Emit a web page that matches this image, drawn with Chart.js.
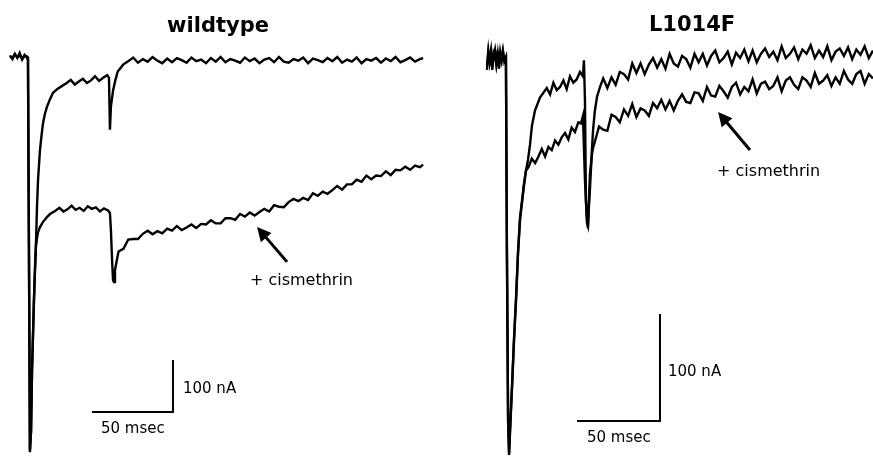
<!DOCTYPE html>
<html><head><meta charset="utf-8">
<script src="https://cdn.jsdelivr.net/npm/chart.js@4/dist/chart.umd.min.js"></script>
<style>
html,body{margin:0;padding:0;background:#fff;width:873px;height:457px;overflow:hidden}
#l{position:absolute;left:0;top:0;width:440px;height:457px}
#r{position:absolute;left:460px;top:0;width:413px;height:457px}
</style>
</head><body>
<div id="l"><canvas id="cl"></canvas></div>
<div id="r"><canvas id="cr"></canvas></div>
<script>
// ---- DATA: time (msec), current (nA) ----
const panelTitles = ["wildtype", "L1014F"];
const drugLabel = "+ cismethrin";
const scaleBarMs = 50, scaleBarNA = 100;
const scaleBarLabels = ["100 nA", "50 msec"];

const wtControl = [[0,3],[1.5,-4],[3,6],[4.5,-2],[6,8],[7.5,-5],[9,4],[10.5,-1],
 [11.1,-6],[11.7,-371],[12.3,-756],[13.0,-717],[13.6,-602],[14.8,-467],[15.4,-410],[16.0,-362],
 [16.7,-285],[17.3,-237],[18.5,-179],[19.5,-150],[20.4,-127],[21.5,-110],[22.8,-96],[24.7,-81],[26.5,-69],[29,-62],[32,-56],[35,-50],
 [37.5,-44],[40,-53],[42.5,-47],[45,-42],[47.5,-50],[50,-45],[52.5,-37],[55,-46],[57.5,-40],[60,-35],[61.1,-40],
 [61.7,-140],[62.3,-95],[63.6,-65],[65,-45],[66.5,-28],[68,-22],[70,-14],[72,-10],[74,-6],
 [76,-1],[79,-11],[82,-4],[85,-9],[88,0],[91,-7],[94,-12],[97,-3],[100,-10],[103,-2],[106,-6],[109,-11],[112,-1],[115,-8],[118,-5],[121,-12],[124,-2],[127,-9],[130,0],[133,-10],[136,-4],[139,-7],[142,-11],[145,-1],[148,-8],[151,-3],[154,-12],[157,-5],[160,-2],[163,-10],[166,0],[169,-9],[172,-11],[175,-4],[178,-7],[181,-1],[184,-12],[187,-3],[190,-6],[193,-10],[196,-2],[199,-8],[202,0],[205,-11],[208,-5],[211,-9],[214,-1],[217,-12],[220,-4],[223,-7],[226,-2],[229,-11],[232,-3],[235,-8],[238,0],[241,-10],[244,-6],[247,-1],[250,-9],[253,-4],[255,-2]];

const wtCismethrin = [[0,1],[1.5,-2],[3,5],[4.5,0],[6,3],[7.5,-4],[9,2],[10.5,1],
 [11.1,-4],[11.7,-371],[12.3,-760],[13.0,-720],[13.6,-604],[14.8,-467],[15.4,-412],[16.0,-364],
 [16.7,-348],[17.3,-337],[18.5,-327],[20.4,-317],[22.8,-308],[24.7,-302],[27.8,-296],
 [30.5,-290],[33,-297],[35.5,-293],[38,-286],[40.5,-294],[43,-290],[45.5,-296],[48,-287],[50.5,-292],[53,-289],[55.5,-297],[58,-291],[60.5,-295],[61.7,-300],
 [62.3,-333],[63.0,-390],[63.6,-429],[64.2,-433],[64.8,-410],[66,-390],
 [67,-374],[70,-369],[73,-351],[76,-350],[79,-350],[82,-340],[85,-334],[88,-341],[91,-335],[94,-339],[97,-330],[100,-334],[103,-325],[106,-333],[109,-328],[112,-322],[115,-329],[118,-321],[121,-322],[124,-314],[127,-320],[130,-320],[133,-310],[136,-310],[139,-313],[142,-302],[145,-307],[148,-299],[151,-305],[154,-298],[157,-292],[160,-297],[163,-285],[166,-288],[169,-289],[172,-279],[175,-273],[178,-277],[181,-271],[184,-275],[187,-262],[190,-267],[193,-259],[196,-263],[199,-256],[202,-248],[205,-255],[208,-245],[211,-245],[214,-236],[217,-240],[220,-228],[223,-235],[226,-228],[229,-229],[232,-220],[235,-227],[238,-217],[241,-218],[244,-211],[247,-217],[250,-209],[253,-212],[255,-207]];

const mutControl = [[0,-12],[0.8,4],[1.6,-3],[2.4,6],[3.2,-9],[4,2],[4.8,7],[5.6,-6],[6.4,3],[7.2,-11],[8,5],[8.8,-2],[9.6,6],[10.4,-4],[11.4,0],
 [12.0,-180],[12.7,-339],[13.3,-372],[13.9,-349],[15.1,-308],[16.3,-264],[17.5,-227],[18.7,-183],[19.9,-152],[21.1,-136],[22.3,-120],[23.5,-106],
 [24.7,-96],[25.9,-82],[27.1,-64],[28.9,-50],[31.9,-38],[33.7,-34],
 [36,-29],[38,-35],[40,-24],[42,-31],[44,-28],[46,-22],[48,-30],[50,-18],[52,-24],[54,-21],[56,-14],[57.8,-18],[58.4,-3],[59.0,-40],[59.6,-134],[60.2,-150],[60.8,-160],[61.4,-140],[62.0,-124],[63.3,-84],[63.9,-68],[65,-50],[66.3,-37],[68.1,-28],
 [70,-20],[72.5,-29],[75,-19],[77.5,-26],[80,-14],[82.5,-16],[85,-21],[87.5,-6],[90,-15],[92.5,-6],[95,-16],[97.5,-7],[100,-1],[102.5,-10],[105,-2],[107.5,-11],[110,3],[112.5,-6],[115,-9],[117.5,1],[120,-2],[122.5,-10],[125,3],[127.5,-5],[130,3],[132.5,-8],[135,1],[137.5,6],[140,-5],[142.5,-1],[145,5],[147.5,-7],[150,4],[152.5,-1],[155,7],[157.5,-4],[160,6],[162.5,-5],[165,3],[167.5,8],[170,0],[172.5,5],[175,-3],[177.5,10],[180,-1],[182.5,3],[185,9],[187.5,-2],[190,7],[192.5,3],[195,11],[197.5,-1],[200,6],[202.5,0],[205,10],[207.5,-3],[210,5],[212.5,8],[215,1],[217.5,9],[220,-2],[222.5,7],[225,2],[227.5,10],[230,-1],[232.5,6]];

const mutCismethrin = [[0,-8],[0.8,6],[1.6,-5],[2.4,3],[3.2,-12],[4,4],[4.8,1],[5.6,-7],[6.4,6],[7.2,-9],[8,2],[8.8,-4],[9.6,5],[10.4,-2],[11.4,0],
 [12.0,-185],[12.7,-340],[13.3,-370],[13.9,-348],[15.1,-306],[16.3,-262],[17.5,-225],[18.7,-182],[19.9,-150],[21.1,-134],[22.3,-118],[23.5,-106],
 [25,-103],[27,-95],[29,-99],[31,-93],[33,-86],[35,-93],[37,-84],[39,-87],[41,-78],[43,-82],[45,-75],[47,-71],[49,-77],[51,-66],[53,-70],[55,-61],[56.6,-62],[57.8,-55],[59.0,-115],[60.2,-155],[60.8,-158],[61.4,-134],[62.0,-110],[63.3,-90],[63.9,-85],
 [65,-79],[67.5,-65],[70,-68],[72.5,-69],[75,-54],[77.5,-56],[80,-61],[82.5,-49],[85,-55],[87.5,-44],[90,-56],[92.5,-48],[95,-50],[97.5,-55],[100,-43],[102.5,-48],[105,-40],[107.5,-49],[110,-41],[112.5,-50],[115,-41],[117.5,-35],[120,-42],[122.5,-43],[125,-33],[127.5,-34],[130,-41],[132.5,-28],[135,-36],[137.5,-37],[140,-27],[142.5,-32],[145,-38],[147.5,-28],[150,-24],[152.5,-35],[155,-28],[157.5,-32],[160,-21],[162.5,-34],[165,-25],[167.5,-23],[170,-30],[172.5,-27],[175,-19],[177.5,-32],[180,-22],[182.5,-19],[185,-26],[187.5,-30],[190,-19],[192.5,-22],[195,-28],[197.5,-15],[200,-25],[202.5,-22],[205,-17],[207.5,-27],[210,-19],[212.5,-25],[215,-13],[217.5,-21],[220,-25],[222.5,-16],[225,-13],[227.5,-25],[230,-16],[232.5,-20]];

// scale-bar corners (time, current) and arrow ends (tip, tail) in data units
const wtScaleCorner = [100.6, -682.7];
const mutScaleCorner = [104.2, -340.2];
const wtArrow = [[152.5, -327], [171, -394]];
const mutArrow = [[139.2, -51.4], [158.4, -86.9]];
const wtLabelAt = [148.1, -431];
const mutLabelAt = [138.6, -107.5];

// ---- rendering ----
const INK = '#000';
const FONT = '"DejaVu Sans", sans-serif';
function pts(a){ return a.map(p => ({x:p[0], y:p[1]})); }
function bar(c){ return [{x:c[0]-scaleBarMs, y:c[1]}, {x:c[0], y:c[1]}, {x:c[0], y:c[1]+scaleBarNA}]; }

function overlay(o){
  return {
    id:'overlay',
    afterDatasetsDraw(chart){
      const ctx = chart.ctx, X = chart.scales.x, Y = chart.scales.y;
      ctx.save();
      ctx.fillStyle = INK; ctx.strokeStyle = INK;
      ctx.font = 'bold 21px ' + FONT;
      ctx.textAlign = 'center'; ctx.textBaseline = 'alphabetic';
      ctx.fillText(o.title, o.titleX, o.titleY);
      ctx.font = '16px ' + FONT; ctx.textAlign = 'left'; ctx.textBaseline = 'middle';
      ctx.fillText(drugLabel, X.getPixelForValue(o.labelAt[0]), Y.getPixelForValue(o.labelAt[1]));
      ctx.font = '15px ' + FONT;
      const cx = X.getPixelForValue(o.corner[0]), cy = Y.getPixelForValue(o.corner[1]);
      const topY = Y.getPixelForValue(o.corner[1] + scaleBarNA);
      const lx = X.getPixelForValue(o.corner[0] - scaleBarMs);
      ctx.fillText(scaleBarLabels[0], cx + o.naDx, (cy + topY)/2 + o.naDy);
      ctx.fillText(scaleBarLabels[1], lx + o.msDx, cy + 17);
      const tx = X.getPixelForValue(o.arrow[0][0]), ty = Y.getPixelForValue(o.arrow[0][1]);
      const sx = X.getPixelForValue(o.arrow[1][0]), sy = Y.getPixelForValue(o.arrow[1][1]);
      const ang = Math.atan2(ty - sy, tx - sx), L = 14, W = 7;
      const bx = tx - L*Math.cos(ang), by = ty - L*Math.sin(ang);
      ctx.lineWidth = 3; ctx.lineCap = 'butt';
      ctx.beginPath(); ctx.moveTo(sx, sy); ctx.lineTo(bx + 2*Math.cos(ang), by + 2*Math.sin(ang)); ctx.stroke();
      ctx.beginPath();
      ctx.moveTo(tx, ty);
      ctx.lineTo(bx + W*Math.sin(ang), by - W*Math.cos(ang));
      ctx.lineTo(bx - W*Math.sin(ang), by + W*Math.cos(ang));
      ctx.closePath(); ctx.fill();
      ctx.restore();
    }
  };
}

function makeChart(id, traces, corner, xr, yr, o){
  const ds = traces.map(t => ({data: pts(t), borderColor: INK, borderWidth: 2.4, pointRadius: 0, tension: 0, clip: false, borderJoinStyle:'miter'}));
  ds.push({data: bar(corner), borderColor: INK, borderWidth: 2, pointRadius: 0, tension: 0, clip: false, borderJoinStyle:'miter'});
  new Chart(document.getElementById(id), {
    type: 'line',
    data: {datasets: ds},
    options: {
      responsive: true, maintainAspectRatio: false, animation: false,
      layout: {padding: 0},
      plugins: {legend: {display: false}, tooltip: {enabled: false}},
      scales: {
        x: {type: 'linear', min: xr[0], max: xr[1], display: false},
        y: {type: 'linear', min: yr[0], max: yr[1], display: false}
      }
    },
    plugins: [overlay(o)]
  });
}

makeChart('cl', [wtControl, wtCismethrin], wtScaleCorner, [-6.17, 265.43], [-769.2, 109.6],
  {title: panelTitles[0], titleX: 218, titleY: 32, labelAt: wtLabelAt, corner: wtScaleCorner, arrow: wtArrow, naDx: 10, naDy: 3, msDx: 9});
makeChart('cr', [mutControl, mutCismethrin], mutScaleCorner, [-16.27, 232.53], [-373.83, 53.27],
  {title: panelTitles[1], titleX: 232, titleY: 31, labelAt: mutLabelAt, corner: mutScaleCorner, arrow: mutArrow, naDx: 8, naDy: 5, msDx: 10});
</script>
</body></html>
